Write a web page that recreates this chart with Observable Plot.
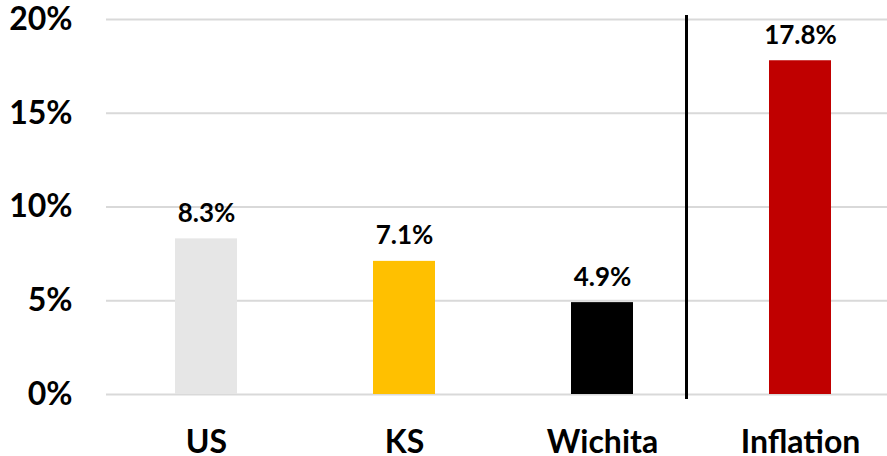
<!DOCTYPE html>
<html>
<head>
<meta charset="utf-8">
<script src="https://cdn.jsdelivr.net/npm/d3@7"></script>
<script src="https://cdn.jsdelivr.net/npm/@observablehq/plot@0.6"></script>
<style>
  html, body { margin: 0; padding: 0; background: #fff; }
  #chart svg { display: block; font-family: Lato, "Open Sans", sans-serif; }
</style>
</head>
<body>
<div id="chart"></div>
<script>
const categories = ["US", "KS", "Wichita", "Inflation"];
const values = [8.3, 7.1, 4.9, 17.8];
const colors = ["#e6e6e6", "#ffc000", "#000000", "#c00000"];
const yTicks = [0, 5, 10, 15, 20];
const separatorBefore = ["Inflation"];

const data = categories.map((c, i) => ({category: c, value: values[i], color: colors[i]}));

const chart = Plot.plot({
  width: 887,
  height: 456,
  marginTop: 19,
  marginBottom: 62,
  marginLeft: 106,
  marginRight: 0,
  style: {fontFamily: "Lato, 'Open Sans', sans-serif", color: "#000", background: "#fff"},
  x: {domain: categories, range: [106, 900], paddingInner: 0.688, paddingOuter: 0.344, label: null},
  y: {domain: [0, 20], label: null},
  marks: [
    Plot.ruleY(yTicks, {stroke: "#d9d9d9", strokeWidth: 2}),
    Plot.barY(data, {x: "category", y: "value", fill: "color"}),
    Plot.text(data, {
      x: "category", y: "value",
      text: d => d.value.toFixed(1) + "%",
      lineAnchor: "bottom", dy: -17,
      fontSize: 26, fontWeight: "bold", fill: "#000"
    }),
    Plot.ruleX(separatorBefore, {
      x: d => d, dx: -114, y1: 20, y2: 0,
      insetTop: -4, insetBottom: -5,
      stroke: "#000", strokeWidth: 3
    }),
    Plot.axisY({ticks: yTicks, tickFormat: d => d + "%", tickSize: 0, tickPadding: 34, fontSize: 32, fontWeight: "bold", label: null}),
    Plot.axisX({tickSize: 0, tickPadding: 36, fontSize: 32, fontWeight: "bold", label: null})
  ]
});
document.getElementById("chart").appendChild(chart);
</script>
</body>
</html>
